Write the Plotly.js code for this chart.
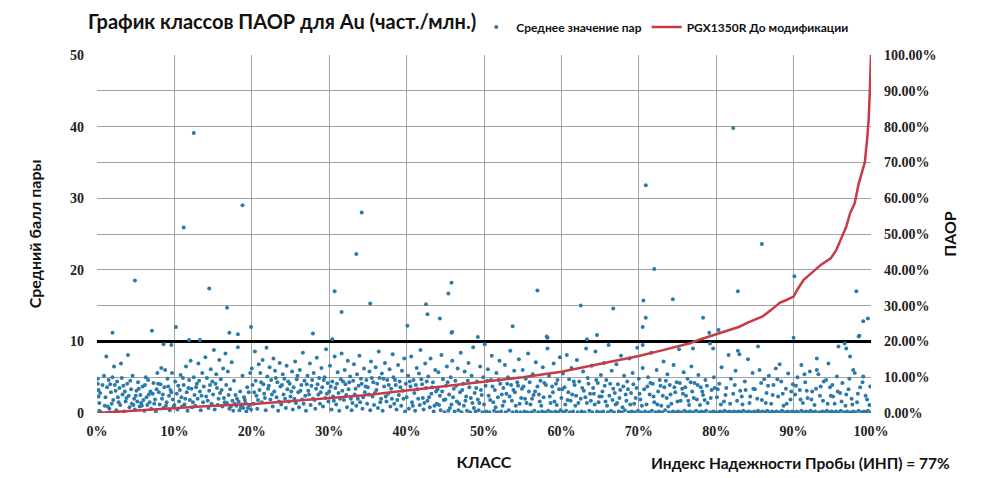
<!DOCTYPE html>
<html lang="ru">
<head>
<meta charset="utf-8">
<title>График классов ПАОР</title>
<script src="https://cdn.plot.ly/plotly-3.0.1.min.js"></script>
<style>
  html, body { margin: 0; padding: 0; background: #fff; }
  #plot { width: 1000px; height: 478px; }
</style>
</head>
<body>
<div id="plot"></div>
<script>
// Точки: [класс, %; среднее значение пары]
const pairPoints = [
  [0.1,4.8],[0.1,4.1],[0.2,3.2],[0.2,2.3],[0.3,1.4],[0.3,0.3],[0.5,0.1],[0.9,5.2],[1.0,1.0],[1.2,7.9],[1.3,3.6],[1.5,4.6],[1.6,0.6],[1.8,2.9],[2.0,11.2],[2.0,5.0],[2.1,1.8],[2.2,6.5],[2.3,3.9],[2.5,0.4],[2.6,4.4],[2.7,2.2],[2.9,3.5],[3.0,1.1],[3.1,6.9],[3.2,4.9],[3.3,2.6],[3.5,0.2],[3.6,3.0],[3.7,1.6],[3.9,4.1],[4.0,8.1],[4.1,2.4],[4.2,0.8],[4.4,3.3],[4.5,1.3],[4.6,5.2],[4.8,2.0],[4.9,18.5],[4.9,0.5],
  [5.1,3.1],[5.2,1.6],[5.3,4.3],[5.5,0.9],[5.6,2.5],[5.7,1.4],[5.9,3.7],[6.0,1.8],[6.1,0.3],[6.3,5.0],[6.4,2.2],[6.5,1.1],[6.6,4.6],[6.8,1.5],[6.9,3.0],[7.0,0.6],[7.1,11.5],[7.2,2.7],[7.3,4.2],[7.5,1.9],[7.6,0.2],[7.7,3.3],[7.8,5.6],[8.0,2.9],[8.1,1.2],[8.2,4.0],[8.3,6.3],[8.4,2.0],[8.6,9.6],[8.6,0.7],[8.7,3.6],[8.8,6.0],[9.0,1.5],[9.1,4.8],[9.3,2.4],[9.4,0.4],[9.5,3.2],[9.6,9.5],[9.7,5.6],[9.8,1.9],[9.9,0.9],
  [10.1,4.4],[10.2,12.0],[10.3,2.7],[10.4,0.5],[10.5,3.8],[10.6,1.6],[10.8,5.3],[10.9,2.2],[11.0,0.9],[11.2,25.9],[11.2,3.9],[11.3,1.2],[11.5,6.5],[11.6,2.9],[11.7,0.3],[11.9,10.2],[11.9,4.6],[12.0,1.8],[12.1,7.3],[12.2,3.4],[12.3,0.8],[12.5,39.1],[12.5,5.0],[12.6,2.5],[12.7,1.0],[12.9,4.1],[13.0,2.0],[13.1,6.9],[13.3,10.2],[13.3,3.0],[13.4,0.4],[13.6,5.6],[13.7,1.5],[13.8,3.7],[14.0,7.8],[14.1,2.3],[14.2,4.9],[14.4,0.7],[14.5,17.4],[14.5,3.1],[14.7,6.1],[14.8,1.3],[14.9,4.4],
  [15.0,2.6],[15.1,8.8],[15.2,0.5],[15.4,5.4],[15.5,3.5],[15.6,1.1],[15.8,7.4],[15.9,2.8],[16.0,4.7],[16.2,0.9],[16.3,6.2],[16.4,2.1],[16.6,8.3],[16.7,3.9],[16.8,14.7],[16.8,1.4],[16.9,5.8],[17.1,11.2],[17.1,0.6],[17.2,3.3],[17.4,7.1],[17.5,1.7],[17.6,0.3],[17.7,4.5],[17.9,2.5],[18.0,1.0],[18.2,11.0],[18.2,9.2],[18.3,1.6],[18.4,0.4],[18.5,3.0],[18.7,1.2],[18.8,29.0],[18.8,5.2],[18.9,0.7],[19.0,2.2],[19.2,1.4],[19.3,0.2],[19.4,3.6],[19.6,2.9],[19.7,1.1],[19.8,5.6],[19.9,12.0],[19.9,0.5],
  [20.0,6.2],[20.1,3.9],[20.2,1.3],[20.4,8.6],[20.5,4.5],[20.6,2.4],[20.7,0.6],[20.9,6.8],[21.0,3.2],[21.1,5.6],[21.3,1.5],[21.4,7.4],[21.5,4.0],[21.6,2.7],[21.8,0.4],[21.9,9.1],[22.0,5.1],[22.1,3.4],[22.3,6.4],[22.4,1.9],[22.5,4.6],[22.7,0.9],[22.8,7.6],[22.9,3.0],[23.0,5.9],[23.2,2.2],[23.3,4.3],[23.4,0.3],[23.6,7.0],[23.7,3.7],[23.8,1.2],[24.0,5.4],[24.1,2.6],[24.2,4.8],[24.4,0.7],[24.5,6.6],[24.6,3.3],[24.8,1.6],[24.9,4.1],
  [25.0,2.3],[25.2,5.8],[25.3,0.5],[25.4,3.6],[25.6,7.2],[25.7,1.4],[25.8,4.7],[26.0,2.9],[26.1,0.8],[26.2,6.0],[26.4,3.9],[26.5,1.9],[26.6,8.4],[26.8,4.5],[26.9,2.4],[27.0,0.3],[27.2,5.2],[27.3,3.1],[27.5,6.9],[27.6,1.1],[27.7,3.8],[27.9,11.1],[27.9,2.0],[28.0,5.6],[28.2,0.6],[28.3,3.4],[28.4,7.7],[28.6,2.6],[28.7,4.9],[28.8,1.3],[29.0,6.3],[29.1,3.6],[29.2,0.9],[29.4,5.0],[29.5,2.1],[29.6,8.9],[29.8,4.2],[29.9,1.6],
  [30.0,3.0],[30.1,6.6],[30.3,0.5],[30.4,10.3],[30.4,4.4],[30.5,2.3],[30.7,17.0],[30.7,7.9],[30.8,3.5],[30.9,1.2],[31.1,5.7],[31.2,2.8],[31.3,0.3],[31.5,4.7],[31.6,14.1],[31.6,8.3],[31.7,3.1],[31.9,1.8],[32.0,6.0],[32.1,4.0],[32.3,0.8],[32.4,7.3],[32.5,3.3],[32.7,5.1],[32.8,2.0],[32.9,0.4],[33.1,4.5],[33.2,6.8],[33.3,2.6],[33.5,22.2],[33.5,1.0],[33.6,5.4],[33.8,3.8],[33.9,8.0],[34.0,1.5],[34.2,28.0],[34.2,4.1],[34.3,0.6],[34.5,6.2],[34.6,2.9],[34.8,4.6],[34.9,1.3],
  [35.0,3.6],[35.2,5.8],[35.3,15.3],[35.3,0.4],[35.4,7.2],[35.6,2.3],[35.7,4.3],[35.8,1.1],[36.0,6.4],[36.1,3.2],[36.3,0.7],[36.4,8.6],[36.5,4.9],[36.7,2.0],[36.8,5.5],[36.9,0.3],[37.1,3.7],[37.2,7.0],[37.4,1.6],[37.5,4.6],[37.6,2.7],[37.8,6.1],[37.9,0.9],[38.0,3.4],[38.2,8.2],[38.3,5.0],[38.4,1.3],[38.6,3.9],[38.7,0.5],[38.9,6.7],[39.0,2.5],[39.1,4.4],[39.3,1.0],[39.4,5.9],[39.5,3.1],[39.7,7.6],[39.8,0.2],[39.9,4.1],
  [40.0,2.2],[40.1,12.2],[40.2,5.2],[40.3,0.6],[40.5,3.7],[40.6,7.9],[40.7,1.5],[40.9,4.6],[41.0,2.8],[41.1,0.3],[41.3,6.3],[41.4,3.3],[41.6,5.5],[41.7,1.1],[41.8,8.8],[42.0,4.0],[42.1,2.1],[42.2,0.5],[42.4,6.9],[42.5,15.2],[42.5,3.5],[42.7,13.8],[42.7,1.7],[42.8,5.1],[43.0,0.8],[43.1,7.6],[43.2,2.7],[43.4,4.3],[43.5,0.2],[43.7,6.0],[43.8,3.0],[43.9,1.3],[44.1,5.7],[44.3,13.2],[44.3,2.4],[44.4,0.4],[44.5,8.1],[44.7,4.7],[44.8,1.8],[44.9,0.1],
  [45.1,3.8],[45.2,6.5],[45.4,16.7],[45.4,0.3],[45.5,2.6],[45.7,5.0],[45.8,18.2],[45.8,11.2],[45.8,1.2],[45.9,11.3],[45.9,7.3],[46.1,3.4],[46.2,0.2],[46.3,4.5],[46.5,1.6],[46.6,6.2],[46.7,0.4],[46.9,2.9],[47.0,8.4],[47.1,0.1],[47.3,4.1],[47.4,1.0],[47.5,5.8],[47.7,2.3],[47.8,0.3],[48.0,7.0],[48.1,3.6],[48.2,0.1],[48.4,5.2],[48.5,1.4],[48.6,9.2],[48.8,2.8],[48.9,0.2],[49.1,4.4],[49.2,10.6],[49.2,1.9],[49.3,0.4],[49.5,6.5],[49.6,3.2],[49.8,0.1],[49.9,5.0],
  [50.0,1.2],[50.1,9.6],[50.2,3.8],[50.3,0.2],[50.5,6.1],[50.6,2.4],[50.7,0.1],[50.9,4.6],[51.0,8.0],[51.2,1.5],[51.3,0.3],[51.4,3.2],[51.6,5.6],[51.7,0.1],[51.8,2.2],[52.0,7.3],[52.1,4.1],[52.2,0.2],[52.4,1.0],[52.5,3.5],[52.7,6.7],[52.8,0.1],[52.9,2.7],[53.1,5.0],[53.2,0.4],[53.4,8.7],[53.5,3.9],[53.6,1.7],[53.7,12.1],[53.7,0.1],[53.9,5.9],[54.0,2.9],[54.2,0.2],[54.3,4.3],[54.5,7.5],[54.6,1.3],[54.7,0.1],[54.9,3.4],
  [55.0,6.0],[55.2,0.2],[55.3,2.0],[55.4,4.8],[55.6,0.1],[55.7,8.3],[55.8,3.0],[56.0,1.2],[56.1,0.1],[56.3,5.4],[56.4,2.5],[56.5,0.3],[56.7,7.1],[56.9,17.1],[56.9,3.7],[57.0,0.1],[57.2,1.6],[57.3,4.5],[57.5,0.2],[57.6,6.4],[57.7,2.2],[57.9,0.1],[58.0,3.9],[58.1,10.7],[58.2,10.5],[58.2,9.0],[58.3,0.3],[58.4,5.2],[58.6,1.4],[58.7,0.1],[58.9,2.9],[59.0,6.9],[59.2,0.2],[59.3,4.1],[59.4,1.1],[59.6,0.1],[59.7,3.3],[59.8,7.8],[59.9,0.4],
  [60.0,2.1],[60.2,5.5],[60.3,0.1],[60.4,3.6],[60.6,0.3],[60.7,8.1],[60.8,1.8],[61.0,4.7],[61.1,0.1],[61.3,6.3],[61.4,2.6],[61.5,0.2],[61.7,3.9],[61.8,1.0],[62.0,7.4],[62.1,0.1],[62.3,4.4],[62.5,15.0],[62.5,2.0],[62.6,0.2],[62.8,5.8],[62.9,3.1],[63.0,0.1],[63.2,9.0],[63.3,10.3],[63.3,1.4],[63.4,4.9],[63.6,0.3],[63.7,2.7],[63.9,6.6],[64.0,0.1],[64.1,3.5],[64.3,1.2],[64.4,8.6],[64.6,10.9],[64.6,0.2],[64.7,4.2],[64.9,2.3],
  [65.0,0.1],[65.1,5.3],[65.3,3.0],[65.4,0.2],[65.5,7.0],[65.7,1.6],[65.8,4.6],[66.0,0.1],[66.1,9.5],[66.2,2.4],[66.4,0.3],[66.5,5.9],[66.7,14.6],[66.7,3.4],[66.8,0.1],[67.0,1.2],[67.1,6.8],[67.3,4.0],[67.4,0.2],[67.5,2.1],[67.7,8.0],[67.8,0.1],[68.0,3.7],[68.1,5.2],[68.2,0.4],[68.4,1.7],[68.5,4.4],[68.7,0.1],[68.8,7.6],[69.0,2.8],[69.1,0.2],[69.2,5.6],[69.4,1.3],[69.5,0.1],[69.7,3.5],[69.8,9.1],[69.9,0.3],
  [70.0,4.8],[70.2,1.9],[70.3,0.1],[70.5,12.0],[70.5,9.5],[70.5,6.3],[70.6,15.7],[70.7,3.3],[70.8,0.2],[70.9,31.8],[70.9,13.3],[71.0,1.2],[71.2,5.0],[71.3,0.1],[71.4,2.6],[71.6,8.4],[71.7,0.3],[71.8,4.1],[72.0,20.1],[72.0,1.5],[72.2,0.1],[72.3,6.0],[72.5,3.0],[72.6,0.2],[72.7,4.6],[72.9,1.0],[73.0,0.1],[73.2,7.2],[73.3,3.6],[73.4,0.4],[73.6,2.1],[73.7,5.4],[73.9,0.1],[74.0,3.9],[74.2,1.3],[74.4,15.9],[74.4,0.2],[74.5,6.7],[74.7,2.9],[74.8,0.1],[74.9,4.3],
  [75.1,0.2],[75.2,8.9],[75.4,1.7],[75.5,0.1],[75.6,3.4],[75.8,5.7],[75.9,0.3],[76.1,2.4],[76.2,0.1],[76.3,4.8],[76.5,1.1],[76.6,0.2],[76.8,6.5],[76.9,3.0],[77.0,9.0],[77.0,0.1],[77.2,4.2],[77.4,0.3],[77.5,1.9],[77.7,5.3],[77.8,0.1],[78.0,3.6],[78.1,0.2],[78.3,13.3],[78.3,2.5],[78.4,0.1],[78.6,4.6],[78.7,0.3],[78.9,1.4],[79.1,11.2],[79.2,9.7],[79.2,0.1],[79.4,3.2],[79.6,9.0],[79.6,0.2],[79.7,5.0],[79.9,0.1],
  [80.1,2.2],[80.3,11.6],[80.3,0.1],[80.4,4.1],[80.5,0.2],[80.7,6.4],[80.8,0.1],[81.0,1.6],[81.1,0.3],[81.3,3.5],[81.5,0.1],[81.6,8.1],[81.7,0.2],[81.9,4.8],[82.0,0.1],[82.2,39.8],[82.2,2.7],[82.3,0.2],[82.5,5.9],[82.6,0.1],[82.8,17.0],[82.8,8.7],[82.9,0.2],[83.0,8.2],[83.1,3.1],[83.2,0.1],[83.4,1.2],[83.5,0.3],[83.7,4.4],[83.9,0.1],[84.1,7.5],[84.2,0.2],[84.4,2.3],[84.5,0.1],[84.7,5.6],[84.9,0.2],
  [85.0,3.3],[85.2,0.1],[85.4,9.3],[85.4,0.3],[85.6,6.0],[85.7,0.1],[85.9,23.6],[85.9,1.8],[86.0,0.2],[86.2,4.7],[86.3,0.1],[86.5,2.8],[86.6,0.3],[86.8,5.2],[86.9,0.1],[87.1,1.3],[87.2,0.2],[87.4,3.9],[87.5,0.1],[87.7,6.2],[87.8,0.2],[88.0,2.3],[88.2,6.8],[88.2,0.1],[88.4,4.4],[88.5,0.3],[88.7,1.0],[88.8,0.1],[89.0,3.4],[89.2,0.2],[89.3,5.5],[89.5,0.1],[89.6,1.9],[89.8,0.2],[89.9,4.0],
  [90.0,10.5],[90.1,19.1],[90.1,0.1],[90.2,2.6],[90.4,0.2],[90.5,5.0],[90.6,0.1],[90.8,3.2],[91.0,6.7],[91.0,0.3],[91.2,1.4],[91.3,0.1],[91.5,4.3],[91.6,0.2],[91.8,2.1],[91.9,0.1],[92.1,5.8],[92.2,0.3],[92.4,3.0],[92.5,0.1],[92.7,1.1],[92.8,0.2],[93.0,7.6],[93.0,6.0],[93.2,5.4],[93.3,0.1],[93.5,3.7],[93.7,0.2],[93.8,1.7],[94.0,0.1],[94.2,4.6],[94.3,0.3],[94.5,6.9],[94.6,0.1],[94.8,2.4],[94.9,0.2],
  [95.0,3.9],[95.2,0.1],[95.3,1.3],[95.5,0.2],[95.6,5.1],[95.8,9.3],[95.8,0.1],[96.0,2.8],[96.1,0.3],[96.3,4.2],[96.5,0.1],[96.6,9.7],[96.7,1.0],[96.8,9.0],[96.9,0.2],[97.1,3.3],[97.3,7.9],[97.3,0.1],[97.5,2.0],[97.7,6.0],[97.7,0.2],[97.9,5.6],[98.0,0.1],[98.1,17.0],[98.2,1.5],[98.4,10.7],[98.4,0.3],[98.5,10.8],[98.6,3.6],[98.8,0.1],[99.0,12.8],[99.0,5.1],[99.1,0.2],[99.3,2.4],[99.4,0.1],[99.6,13.2],[99.6,0.3],[99.8,1.1],[99.9,3.7],[100.0,0.1]
];

// Плотное облако ниже 5 баллов (дополнительные точки)
const pairPointsDense = [
  [0.4,2.8],[0.7,3.9],[1.1,2.2],[1.4,0.9],[1.7,4.0],[1.9,1.3],[2.4,3.1],[2.8,1.5],[3.4,3.8],[3.8,2.1],[4.3,4.5],[4.7,1.1],[5.0,2.4],[5.4,3.4],[5.8,1.0],[6.2,3.9],[6.7,2.6],[7.4,1.3],[7.9,4.1],[8.5,2.6],[8.9,1.0],[9.2,3.7],[9.6,2.9],
  [10.0,1.1],[10.7,3.2],[11.1,4.9],[11.4,2.0],[11.8,3.5],[12.4,1.5],[12.8,3.6],[13.2,4.5],[13.5,2.4],[14.3,1.7],[14.6,3.9],[15.3,4.1],[15.7,2.0],[16.1,3.2],[16.5,1.5],[17.0,2.5],[17.3,0.9],[17.8,1.3],[18.1,2.0],[18.6,0.8],[19.1,1.8],[19.5,0.7],
  [20.3,2.9],[20.8,1.8],[21.2,4.3],[21.7,2.1],[22.2,3.8],[22.6,2.6],[23.1,4.9],[23.5,1.6],[23.9,3.9],[24.3,2.0],[24.7,4.4],[25.1,3.0],[25.5,2.0],[25.9,5.2],[26.3,3.1],[26.7,1.3],[27.1,4.0],[27.4,2.6],[27.8,4.6],[28.1,1.8],[28.5,4.0],[28.9,2.9],[29.3,4.6],[29.7,2.7],
  [30.2,3.7],[30.6,1.7],[31.0,4.1],[31.4,2.0],[31.8,4.4],[32.2,2.5],[32.6,4.3],[33.0,1.4],[33.4,3.4],[33.7,2.0],[34.1,4.8],[34.4,2.2],[34.7,3.7],[35.1,2.6],[35.5,4.9],[35.9,2.8],[36.2,4.1],[36.6,1.5],[37.0,4.8],[37.3,2.3],[37.7,3.9],[38.1,2.0],[38.5,4.6],[38.8,1.8],[39.2,3.6],[39.6,2.0],
  [40.4,4.4],[40.8,1.0],[41.2,3.9],[41.5,2.0],[41.9,4.7],[42.3,1.4],[42.6,4.4],[42.9,2.2],[43.3,3.6],[43.6,1.0],[44.0,3.3],[44.2,1.1],[44.6,3.0],[45.0,1.9],[45.3,4.3],[45.6,0.7],[46.0,2.2],[46.4,3.8],[46.8,1.3],[47.2,3.2],[47.6,1.7],[47.9,4.5],[48.3,2.1],[48.7,0.7],[49.0,3.5],[49.4,1.4],[49.7,2.5],
  [50.4,4.5],[50.8,1.8],[51.1,3.7],[51.5,0.8],[51.9,4.6],[52.3,2.6],[52.6,1.6],[53.0,4.1],[53.3,2.3],[53.8,3.2],[54.1,1.0],[54.4,3.8],[54.8,2.1],[55.1,3.7],[55.5,1.4],[55.9,4.3],[56.2,2.0],[56.6,3.0],[57.1,2.6],[57.4,1.0],[57.8,4.2],[58.5,2.3],[58.8,3.7],[59.1,1.6],[59.5,4.6],
  [60.1,3.3],[60.5,1.2],[60.9,2.9],[61.2,1.7],[61.6,4.4],[61.9,2.4],[62.2,1.4],[62.7,3.5],[63.1,2.2],[63.5,4.1],[63.8,1.7],[64.2,2.7],[64.5,4.6],[64.8,1.5],[65.2,2.3],[65.6,3.8],[65.9,1.0],[66.3,4.1],[66.6,1.8],[66.9,2.8],[67.2,1.4],[67.6,3.2],[67.9,0.8],[68.3,2.6],[68.6,3.3],[68.9,1.2],[69.3,4.0],[69.6,2.1],
  [70.1,2.7],[70.4,1.0],[71.1,3.7],[71.5,4.2],[71.9,2.3],[72.4,1.2],[72.8,3.8],[73.1,2.4],[73.5,4.5],[73.8,0.9],[74.1,2.6],[74.6,3.6],[75.0,1.6],[75.3,4.2],[75.7,2.7],[76.0,3.6],[76.4,1.7],[76.7,4.3],[77.1,2.1],[77.6,3.9],[77.9,1.1],[78.2,3.0],[78.5,1.8],[78.8,3.8],[79.3,2.1],[79.8,3.5],
  [80.2,3.3],[80.6,1.2],[81.2,2.5],[81.8,1.3],[82.4,3.9],[82.7,1.7],[83.3,2.3],[83.8,3.2],[84.3,1.4],[84.8,3.4],[85.3,2.0],[85.8,4.2],[86.4,1.4],[86.7,3.8],[87.3,2.5],[87.9,4.7],[88.6,2.7],[89.1,1.3],[89.7,3.0],
  [90.3,3.8],[90.9,1.9],[91.4,5.4],[91.7,3.1],[92.3,1.9],[92.9,3.4],[93.4,2.4],[93.9,4.4],[94.4,1.3],[94.7,3.6],[95.1,2.3],[95.7,3.0],[96.2,1.6],[96.8,2.6],[97.2,4.8],[97.6,1.2],[98.3,2.7],[98.9,4.3],[99.5,1.9]
];

// Кривая ПАОР (правая ось, %)
const paorClass = [0,5,10,15,20,25,30,35,38,44,50,55,60,65,70,73,76.6,78,80,82,83,84,86,87,88.2,89,90,90.5,91.3,92,93.6,94.8,95.5,96,96.8,97.3,97.9,98.4,98.7,99.2,99.5,99.7,99.85,100];
const paorValue = [0,0.7,1.5,2.0,2.5,3.3,4.1,5.0,5.8,7.3,8.6,10.0,11.5,13.7,15.9,17.5,19.5,20.6,22.0,23.2,24.1,25.2,27.0,28.6,30.8,31.5,32.5,34.5,37.2,38.5,41.5,43.2,45.5,48.0,52.0,55.8,58.6,64.0,66.0,70.0,76.5,82.0,90.0,100.0];

// Порог среднего балла
const thresholdScore = 10;

const chartTitle = 'График классов ПАОР для Au (част./млн.)';
const indexNote = 'Индекс Надежности Пробы (ИНП) = 77%';

document.addEventListener('DOMContentLoaded', function() {
    const tickFont = { family: 'Liberation Serif, serif', size: 14, color: '#222', weight: 'bold' };
    const labelFont = { family: 'Lato, Noto Sans, sans-serif', size: 16, color: '#111', weight: 'bold' };

    const allPoints = pairPoints.concat(pairPointsDense);

    const scatterTrace = {
        x: allPoints.map(p => p[0]),
        y: allPoints.map(p => p[1]),
        mode: 'markers',
        type: 'scatter',
        name: 'Среднее значение пар',
        marker: { color: '#2c7aa8', size: 4 },
        xaxis: 'x', yaxis: 'y'
    };

    const paorTrace = {
        x: paorClass,
        y: paorValue,
        mode: 'lines',
        type: 'scatter',
        name: 'PGX1350R До модификации',
        line: { color: '#c63b45', width: 2.5 },
        xaxis: 'x', yaxis: 'y2'
    };

    const layout = {
        width: 1000,
        height: 478,
        margin: { l: 97, r: 129, t: 55, b: 65 },
        paper_bgcolor: '#fff',
        plot_bgcolor: '#fff',
        title: {
            text: chartTitle,
            font: { family: 'Lato, Noto Sans, sans-serif', size: 20, color: '#111', weight: 'bold' },
            x: 0.088, xref: 'container', xanchor: 'left',
            y: 0.954, yref: 'container', yanchor: 'middle'
        },
        showlegend: true,
        legend: {
            orientation: 'h',
            x: 0.49, y: 1.078, xanchor: 'left', yanchor: 'middle',
            font: { family: 'Lato, Noto Sans, sans-serif', size: 12, color: '#111', weight: 'bold' },
            itemwidth: 30,
            tracegroupgap: 0
        },
        xaxis: {
            range: [0, 100],
            dtick: 10,
            ticksuffix: '%',
            showgrid: true,
            gridcolor: '#a3a3a3',
            gridwidth: 1,
            zeroline: false,
            showline: false,
            ticks: '',
            ticklabelstandoff: 8,
            tickfont: tickFont,
            title: { text: 'КЛАСС', font: labelFont, standoff: 18 }
        },
        yaxis: {
            range: [0, 50],
            dtick: 10,
            showgrid: false,
            zeroline: false,
            ticks: '',
            ticklabelstandoff: 12,
            tickfont: tickFont,
            title: { text: 'Средний балл пары', font: labelFont, standoff: 24 }
        },
        yaxis2: {
            range: [0, 100],
            dtick: 10,
            overlaying: 'y',
            side: 'right',
            tickformat: '.2f',
            ticksuffix: '%',
            showgrid: true,
            gridcolor: '#a3a3a3',
            gridwidth: 1,
            zeroline: false,
            ticks: '',
            ticklabelstandoff: 12,
            tickfont: tickFont,
            title: { text: 'ПАОР', font: labelFont, standoff: 9 }
        },
        shapes: [{
            type: 'line', xref: 'x', yref: 'y',
            x0: 0, x1: 100, y0: thresholdScore, y1: thresholdScore,
            line: { color: '#000', width: 3 },
            layer: 'between'
        }],
        annotations: [{
            text: indexNote,
            xref: 'paper', yref: 'paper',
            x: 1.105, y: -0.14, xanchor: 'right', yanchor: 'middle',
            showarrow: false,
            font: { family: 'Lato, Noto Sans, sans-serif', size: 15.5, color: '#111', weight: 'bold' }
        }]
    };

    Plotly.newPlot('plot', [scatterTrace, paorTrace], layout, { displayModeBar: false, staticPlot: true });
});
</script>
</body>
</html>
